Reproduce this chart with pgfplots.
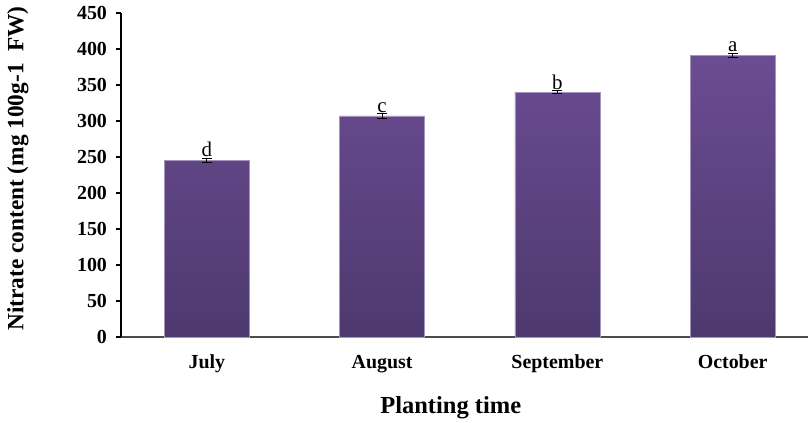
\documentclass[border=0pt]{standalone}
\usepackage{pgfplots}
\pgfplotsset{compat=1.18}
\usepackage{pgfplotstable}
\usepackage{fontspec}
\setmainfont{Liberation Serif}

\definecolor{bartop}{HTML}{6B4C93}
\definecolor{barbot}{HTML}{4D396E}

% nitrate content by planting month, with letters of significance
\pgfplotstableread{
x  y    e  l
0  245  3  d
1  307  3  c
2  340  2  b
3  391  3  a
}\nitrate

\begin{document}
\begin{tikzpicture}
\begin{axis}[
  scale only axis,
  width=343.5bp, height=162bp,
  xmin=-0.49, xmax=3.43,
  ymin=0, ymax=450,
  ytick={0,50,...,450},
  xtick={0,1,2,3},
  xticklabels={July,August,September,October},
  axis x line*=bottom,
  axis y line*=left,
  axis line style={line width=0.75bp, black},
  x axis line style={black!70},
  y tick style={black, line width=0.75bp},
  major tick length=2.5bp,
  tick align=outside,
  x tick style={draw=none},
  /pgf/number format/assume math mode=true,
  yticklabel style={font=\bfseries\fontsize{10}{12}\selectfont, xshift=-1bp},
  xticklabel style={font=\bfseries\fontsize{10}{12}\selectfont, yshift=-3bp},
  ylabel={Nitrate content (mg 100g-1\ \ FW)},
  ylabel style={font=\bfseries\fontsize{11.7}{14}\selectfont, at={(axis description cs:-0.15,0.52)}, anchor=center},
  xlabel={Planting time},
  xlabel style={font=\bfseries\fontsize{12.3}{14}\selectfont, at={(axis description cs:0.48,0)}, anchor=center, yshift=-35.5bp},
  clip=false,
]
\addplot[
  ybar, bar width=0.485, bar shift=0pt,
  draw=bartop!60!white, line width=0.3bp,
  top color=bartop, bottom color=barbot,
  error bars/.cd, y dir=both, y explicit,
  error bar style={black, line width=0.6bp},
  error mark options={black, mark size=2.5bp, line width=0.6bp, rotate=90},
] table[x=x, y=y, y error=e] {\nitrate};
\addplot[
  only marks, mark=none,
  point meta=explicit symbolic,
  nodes near coords,
  every node near coord/.append style={font=\fontsize{10.5}{12}\selectfont, anchor=south, inner sep=0pt, yshift=0.5bp},
] table[x=x, y expr=\thisrow{y}+\thisrow{e}, meta=l] {\nitrate};
\end{axis}
\pgfresetboundingbox
\useasboundingbox (-60.5bp,-43bp) rectangle (343.5bp,168.5bp);
\end{tikzpicture}
\end{document}
